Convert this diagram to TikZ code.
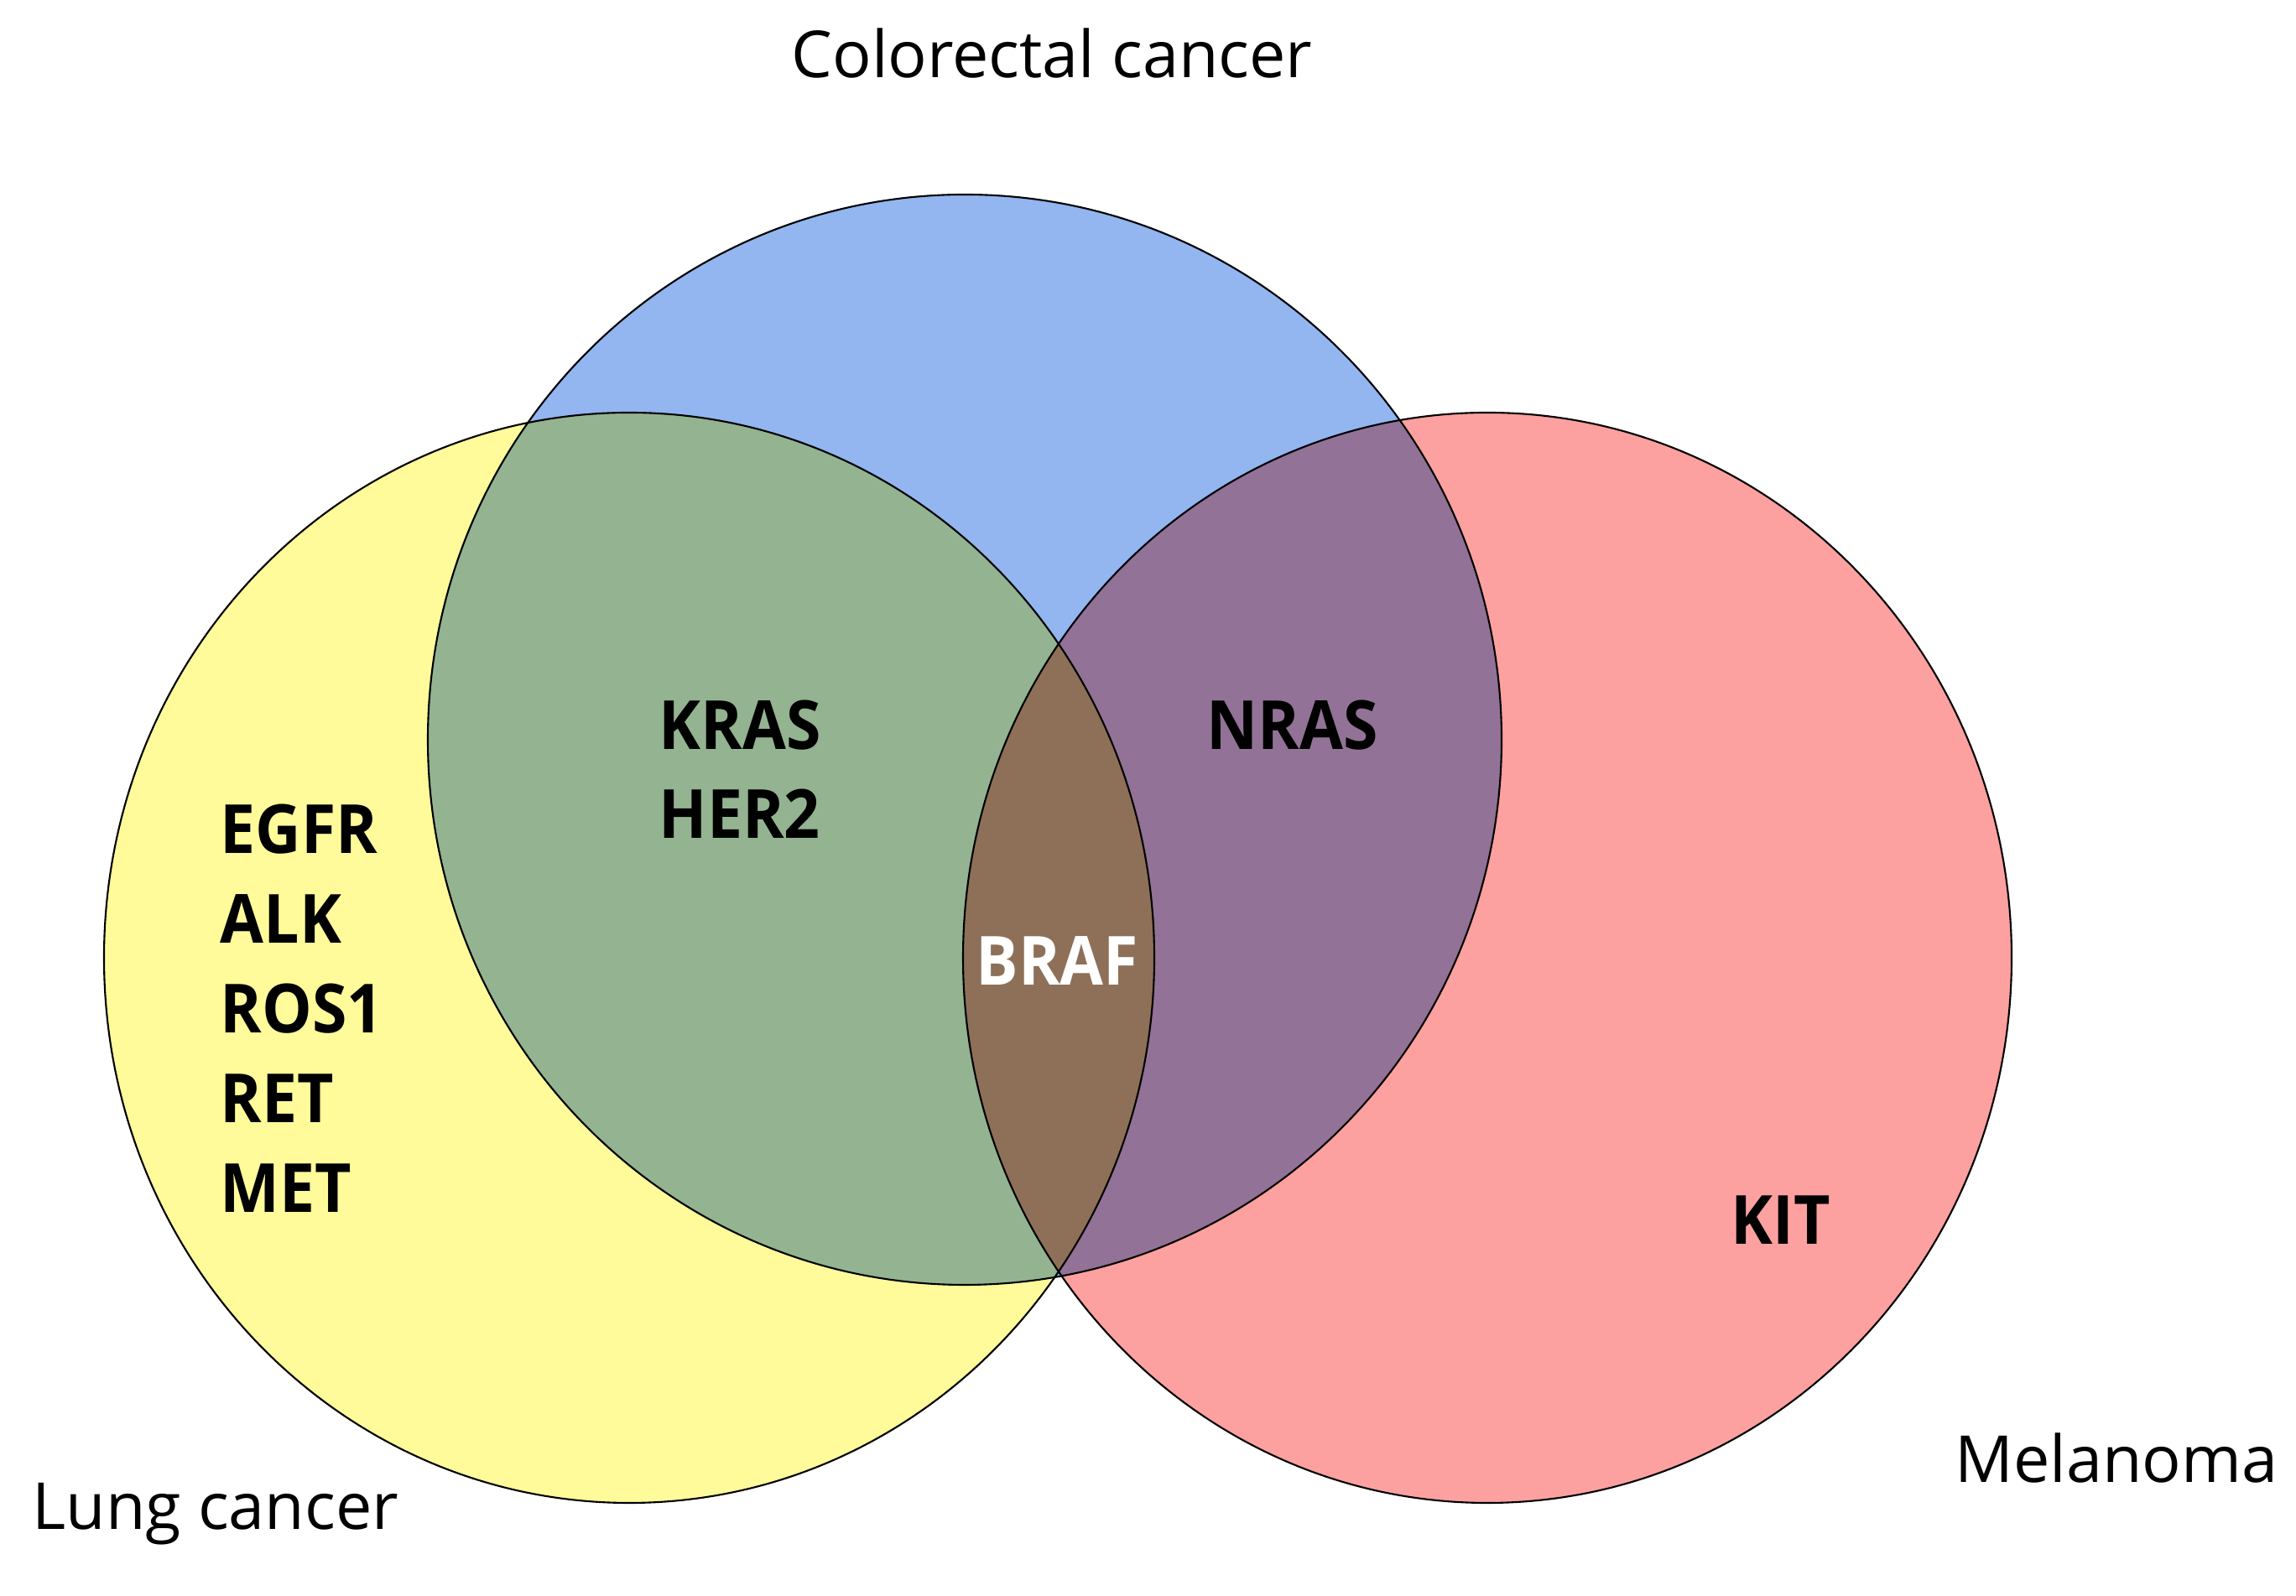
\documentclass[tikz,border=0pt]{standalone}
\usepackage{fontspec}
\setmainfont{Open Sans}
\newfontfamily\genefont{Open Sans}[FakeStretch=0.93]
\usepackage{tikz}

\definecolor{lungcol}{RGB}{255,251,154}
\definecolor{crccol}{RGB}{147,181,240}
\definecolor{melcol}{RGB}{252,160,160}
\definecolor{lungcrc}{RGB}{147,179,145}
\definecolor{crcmel}{RGB}{146,114,150}
\definecolor{allcol}{RGB}{142,112,88}

\tikzset{
    gene/.style={font=\genefont\fontsize{23}{28}\selectfont\bfseries, anchor=base west, inner sep=0pt},
    title/.style={font=\fontsize{22}{27}\selectfont, anchor=base west, inner sep=0pt}
}

\begin{document}
\begin{tikzpicture}
    \useasboundingbox (0, 0) rectangle (27.37, 19.03);

    % the three sets
    \fill[lungcol] (7.50, 7.61) ellipse (6.26 and 6.50);
    \fill[crccol] (11.50, 10.21) ellipse (6.40 and 6.50);
    \fill[melcol] (17.73, 7.61) ellipse (6.25 and 6.50);

    % overlaps
    \begin{scope}
        \clip (7.50, 7.61) ellipse (6.26 and 6.50);
        \fill[lungcrc] (11.50, 10.21) ellipse (6.40 and 6.50);
    \end{scope}
    \begin{scope}
        \clip (11.50, 10.21) ellipse (6.40 and 6.50);
        \fill[crcmel] (17.73, 7.61) ellipse (6.25 and 6.50);
    \end{scope}
    \begin{scope}
        \clip (7.50, 7.61) ellipse (6.26 and 6.50);
        \clip (11.50, 10.21) ellipse (6.40 and 6.50);
        \fill[allcol] (17.73, 7.61) ellipse (6.25 and 6.50);
    \end{scope}

    % outlines
    \draw[line width=0.6pt] (7.50, 7.61) ellipse (6.26 and 6.50);
    \draw[line width=0.6pt] (11.50, 10.21) ellipse (6.40 and 6.50);
    \draw[line width=0.6pt] (17.73, 7.61) ellipse (6.25 and 6.50);

    % set names
    \node[title] (crc) at (9.43, 18.10) {Colorectal cancer};
    \node[title] (lung) at (0.38, 0.79) {Lung cancer};
    \node[title] (mel) at (23.30, 1.35) {Melanoma};

    % genes
    \node[gene] (egfr) at (2.62, 8.85) {EGFR};
    \node[gene] (alk) at (2.62, 7.78) {ALK};
    \node[gene] (ros) at (2.62, 6.71) {ROS1};
    \node[gene] (ret) at (2.62, 5.64) {RET};
    \node[gene] (met) at (2.62, 4.57) {MET};

    \node[gene] (kras) at (7.85, 10.09) {KRAS};
    \node[gene] (her) at (7.85, 9.03) {HER2};
    \node[gene] (nras) at (14.38, 10.09) {NRAS};
    \node[gene, white] (braf) at (11.63, 7.28) {BRAF};
    \node[gene] (kit) at (20.63, 4.19) {KIT};
\end{tikzpicture}
\end{document}
